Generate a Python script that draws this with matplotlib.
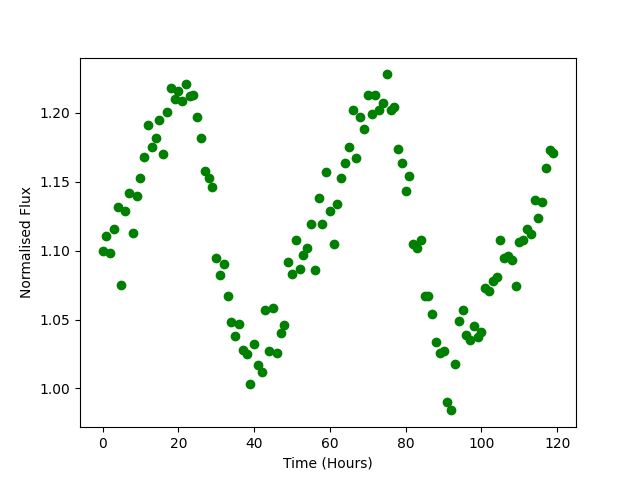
import numpy as np
import matplotlib
matplotlib.use("Agg")
import matplotlib.pyplot as plt

# time in hours, one reading per hour
time_hours = np.arange(120)

flux = [
    1.100, 1.111, 1.098, 1.116, 1.132, 1.075, 1.129, 1.142, 1.113, 1.140,
    1.153, 1.168, 1.191, 1.175, 1.182, 1.195, 1.170, 1.201, 1.218, 1.210,
    1.216, 1.209, 1.221, 1.212, 1.213, 1.197, 1.182, 1.158, 1.153, 1.146,
    1.095, 1.082, 1.090, 1.067, 1.048, 1.038, 1.047, 1.028, 1.025, 1.003,
    1.032, 1.017, 1.012, 1.057, 1.027, 1.058, 1.026, 1.040, 1.046, 1.092,
    1.083, 1.108, 1.087, 1.097, 1.102, 1.119, 1.086, 1.138, 1.119, 1.157,
    1.129, 1.105, 1.134, 1.153, 1.164, 1.175, 1.202, 1.167, 1.197, 1.188,
    1.213, 1.199, 1.213, 1.202, 1.207, 1.228, 1.202, 1.204, 1.174, 1.164,
    1.143, 1.154, 1.105, 1.102, 1.108, 1.067, 1.067, 1.054, 1.034, 1.026,
    1.027, 0.990, 0.984, 1.018, 1.049, 1.057, 1.039, 1.035, 1.045, 1.037,
    1.041, 1.073, 1.071, 1.078, 1.081, 1.108, 1.095, 1.096, 1.093, 1.074,
    1.106, 1.108, 1.116, 1.112, 1.137, 1.124, 1.135, 1.160, 1.173, 1.171,
]

fig, ax = plt.subplots(figsize=(6.4, 4.8), dpi=100)
ax.plot(time_hours, flux, 'o', color='green')
ax.set_xlabel('Time (Hours)')
ax.set_ylabel('Normalised Flux')

fig.savefig('out.png')
